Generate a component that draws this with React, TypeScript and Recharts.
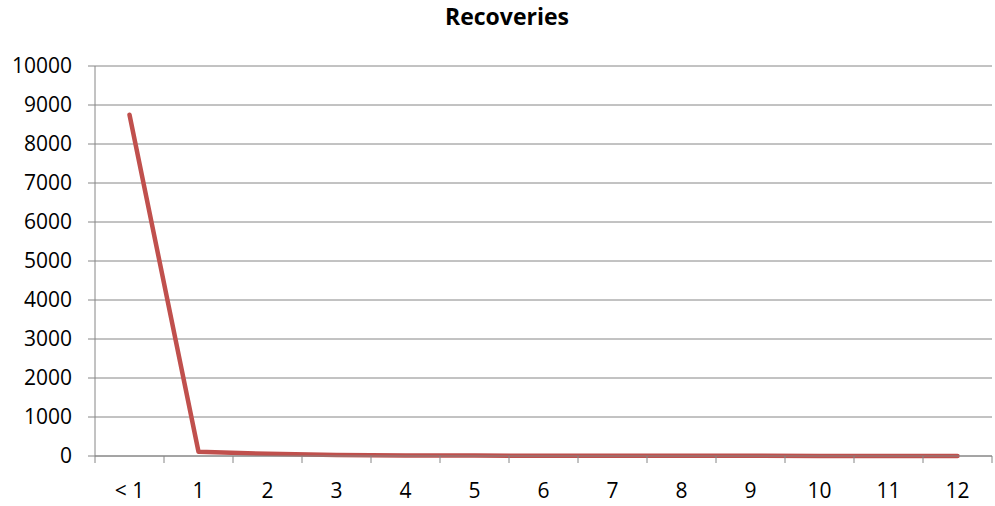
import React from "react";
import { LineChart, Line, XAxis, YAxis, CartesianGrid } from "recharts";

const categories = ["< 1", "1", "2", "3", "4", "5", "6", "7", "8", "9", "10", "11", "12"];
const recoveries = [8750, 110, 55, 25, 15, 10, 8, 6, 5, 4, 3, 2, 2];
const yTicks = [0, 1000, 2000, 3000, 4000, 5000, 6000, 7000, 8000, 9000, 10000];

const W = 995;
const H = 506;
const LEFT = 95;
const RIGHT = 3;
const BAND = (W - LEFT - RIGHT) / categories.length;

const data = categories.map((name, i) => ({ name, x: i + 0.5, value: recoveries[i] }));
const xTicks = categories.map((_, i) => i).concat(categories.length);

const FONT = "'Open Sans', sans-serif";

const XTick = (props: any) => {
  const { x, y, payload } = props;
  const v = payload.value as number;
  return (
    <g>
      <line x1={x} x2={x} y1={y - 7} y2={y} stroke="#868686" strokeWidth={1} />
      {v < categories.length && (
        <text x={x + BAND / 2} y={y + 35} textAnchor="middle" fontSize={21} fill="#000" fontFamily={FONT}>
          {categories[v]}
        </text>
      )}
    </g>
  );
};

export default function App() {
  return (
    <div style={{ position: "relative", width: W, height: H, background: "#fff" }}>
      <style>{`body{margin:0}`}</style>
      <div
        style={{
          position: "absolute",
          top: 0,
          left: 407,
          width: 200,
          textAlign: "center",
          fontFamily: FONT,
          fontWeight: 700,
          fontSize: 23,
          lineHeight: "32px",
          color: "#000",
        }}
      >
        Recoveries
      </div>
      <LineChart width={W} height={H} data={data} margin={{ top: 66, right: RIGHT, bottom: 0, left: 0 }}>
        <CartesianGrid vertical={false} stroke="#868686" />
        <XAxis
          dataKey="x"
          type="number"
          domain={[0, categories.length]}
          ticks={xTicks}
          interval={0}
          height={50}
          tickLine={false}
          tickSize={7}
          tickMargin={0}
          axisLine={{ stroke: "#868686" }}
          tick={<XTick />}
        />
        <YAxis
          width={LEFT}
          domain={[0, 10000]}
          ticks={yTicks}
          interval={0}
          tickSize={7}
          tickMargin={16}
          axisLine={{ stroke: "#868686" }}
          tickLine={{ stroke: "#868686" }}
          tick={{ fontSize: 21, fill: "#000", fontFamily: FONT }}
        />
        <Line
          type="linear"
          dataKey="value"
          stroke="#C0504D"
          strokeWidth={4.5}
          strokeLinecap="round"
          strokeLinejoin="round"
          dot={false}
          activeDot={false}
          isAnimationActive={false}
        />
      </LineChart>
    </div>
  );
}
